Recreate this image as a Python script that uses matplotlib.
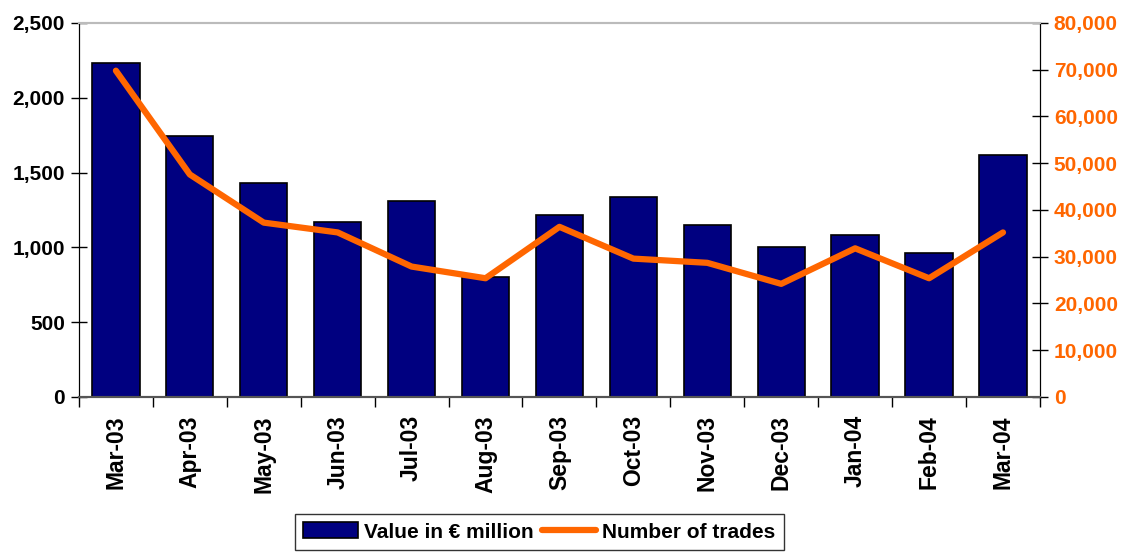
import numpy as np
import matplotlib.pyplot as plt
from matplotlib.ticker import FuncFormatter, FixedLocator

plt.rcParams['font.family'] = ['Liberation Sans', 'DejaVu Sans']
plt.rcParams['font.weight'] = 'bold'

months = ['Mar-03', 'Apr-03', 'May-03', 'Jun-03', 'Jul-03', 'Aug-03', 'Sep-03',
          'Oct-03', 'Nov-03', 'Dec-03', 'Jan-04', 'Feb-04', 'Mar-04']
value_eur_m = [2235, 1743, 1433, 1168, 1312, 804, 1219, 1339, 1152, 1005, 1085, 965, 1620]
num_trades = [69800, 47600, 37300, 35200, 27900, 25400, 36400, 29600, 28700, 24200, 31800, 25400, 35200]

navy = '#000080'
orange = '#FF6600'

fig = plt.figure(figsize=(11.31, 5.54), dpi=100)
ax = fig.add_axes([0.0698, 0.2834, 0.8497, 0.6751])
ax2 = ax.twinx()

x = np.arange(len(months))
bars = ax.bar(x, value_eur_m, width=0.64, color=navy, edgecolor='black', linewidth=1.2,
              label='Value in € million', zorder=2)
line, = ax2.plot(x, num_trades, color=orange, linewidth=4.5, solid_capstyle='round',
                 label='Number of trades', zorder=3)

ax.set_xlim(-0.5, len(months) - 0.5)
ax.set_ylim(0, 2500)
ax2.set_ylim(0, 80000)
ax.set_yticks(np.arange(0, 2501, 500))
ax2.set_yticks(np.arange(0, 80001, 10000))
ax.yaxis.set_major_formatter(FuncFormatter(lambda v, p: f'{int(v):,}'))
ax2.yaxis.set_major_formatter(FuncFormatter(lambda v, p: f'{int(v):,}'))

# category labels centered, ticks between categories
ax.set_xticks(x)
ax.set_xticklabels(months, rotation=90, fontsize=16.5, fontweight='bold')
ax.tick_params(axis='x', which='major', length=0, pad=13)
ax.xaxis.set_minor_locator(FixedLocator(np.arange(-0.5, len(months), 1)))
ax.tick_params(axis='x', which='minor', length=7, width=1, direction='out', color='black')

ax.tick_params(axis='y', direction='inout', length=12, width=1, labelsize=15, pad=4)
ax2.tick_params(axis='y', direction='inout', length=12, width=1, labelsize=15,
                labelcolor=orange, pad=4)
for lab in ax.get_yticklabels() + ax2.get_yticklabels():
    lab.set_fontweight('bold')

for a in (ax, ax2):
    a.spines['top'].set_color('#BBBBBB')
    a.spines['top'].set_linewidth(1.5)
    a.spines['left'].set_color('black')
    a.spines['right'].set_color('black')
    a.spines['bottom'].set_color('#555555')
    a.spines['bottom'].set_linewidth(1.5)

leg = fig.legend([bars, line], ['Value in € million', 'Number of trades'],
                 loc='upper center', bbox_to_anchor=(0.477, 0.072), ncol=2,
                 borderaxespad=0, frameon=True, fancybox=False, edgecolor='black',
                 handlelength=2.6, handleheight=0.8, columnspacing=0.4,
                 handletextpad=0.3, borderpad=0.4, prop={'weight': 'bold', 'size': 15})
leg.get_frame().set_linewidth(1.0)

fig.savefig('out.png', dpi=100)
